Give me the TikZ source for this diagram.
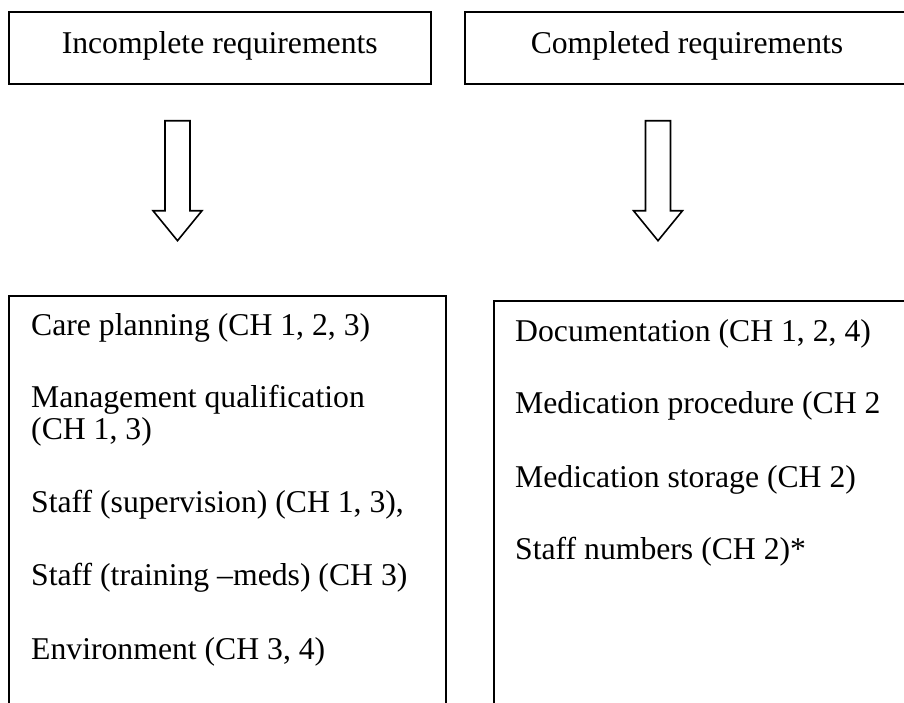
\documentclass[tikz,border=0pt]{standalone}
\usepackage{fontspec}
\setmainfont{Liberation Serif}
\begin{document}
\begin{tikzpicture}[x=1pt,y=-1pt,
  box/.style={draw=black, line width=2pt, rectangle, inner sep=0pt},
  txt/.style={inner sep=0pt, font=\fontsize{31.7}{32}\selectfont},
  item/.style={txt, anchor=base west},
  blockarrow/.style={draw=black, line width=1.6pt, fill=white, line join=miter}]
\useasboundingbox (0,0) rectangle (904,702);
\clip (0,0) rectangle (904,702);
\fill[white] (0,0) rectangle (904,702);
% top boxes
\node[box, minimum width=422pt, minimum height=72pt] (incbox) at (219.75,48) {};
\node[txt, anchor=base] (inctext) at (219.75,53) {Incomplete requirements};
\node[box, minimum width=444pt, minimum height=72pt] (compbox) at (687,48) {};
\node[txt, anchor=base] (comptext) at (687,53) {Completed requirements};
% block arrows
\coordinate (a1) at (177.5,120.7);
\coordinate (a2) at (658,120.7);
\draw[blockarrow] (a1) ++(-12.5,0) -- ++(0,90) -- ++(-12,0) -- ++(24.5,30) -- ++(24.5,-30) -- ++(-12,0) -- ++(0,-90) -- cycle;
\draw[blockarrow] (a2) ++(-12.5,0) -- ++(0,90) -- ++(-12,0) -- ++(24.5,30) -- ++(24.5,-30) -- ++(-12,0) -- ++(0,-90) -- cycle;
% bottom boxes
\node[box, minimum width=437pt, minimum height=424pt] (incl) at (227.5,508) {};
\node[box, minimum width=436pt, minimum height=419pt] (compl) at (712,510.5) {};
% left items
\node[item] (l1) at (31,335) {Care planning (CH 1, 2, 3)};
\node[item] (l2) at (31,407) {Management qualification};
\node[item] (l2b) at (31,439) {(CH 1, 3)};
\node[item] (l3) at (31,512) {Staff (supervision) (CH 1, 3),};
\node[item] (l4) at (31,585) {Staff (training \textendash meds) (CH 3)};
\node[item] (l5) at (31,659) {Environment (CH 3, 4)};
% right items
\node[item] (r1) at (515,341) {Documentation (CH 1, 2, 4)};
\node[item] (r2) at (515,413) {Medication procedure (CH 2};
\node[item] (r3) at (515,487) {Medication storage (CH 2)};
\node[item] (r4) at (515,559) {Staff numbers (CH 2)*};
\end{tikzpicture}
\end{document}
